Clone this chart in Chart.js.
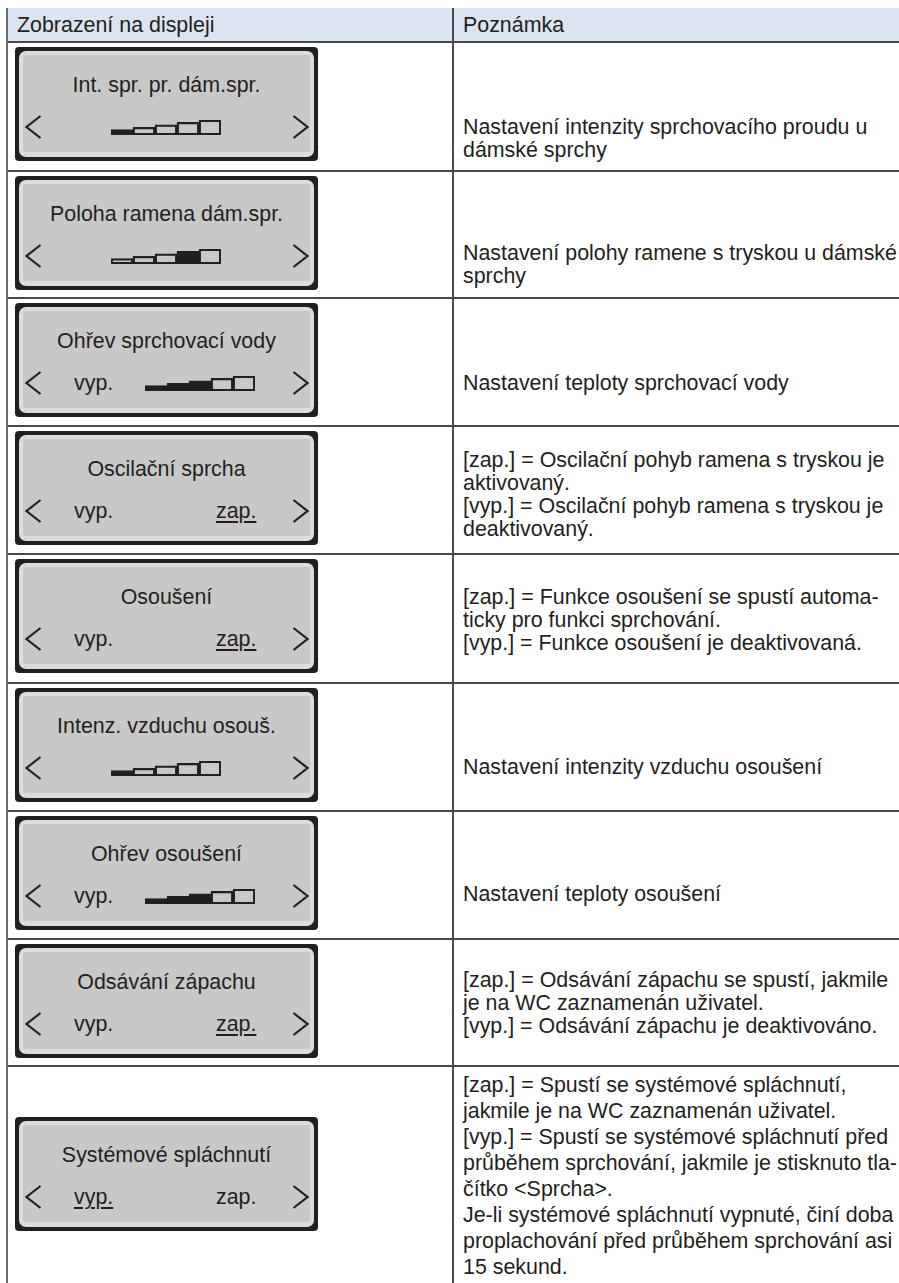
<!DOCTYPE html>
<html lang="cs">
<head>
<meta charset="utf-8">
<title>Zobrazení na displeji</title>
<script src="https://cdn.jsdelivr.net/npm/chart.js@4.4.1/dist/chart.umd.min.js"></script>
<style>
  html, body { margin: 0; padding: 0; background: #fff; }
  body { width: 899px; height: 1283px; overflow: hidden; position: relative;
         font-family: "Liberation Sans", Arial, Helvetica, sans-serif; color: #231f20; }
  .abs { position: absolute; }
  .header { left: 7px; top: 8px; width: 892px; height: 34px; background: #dbe4f1; }
  .hline { left: 7px; width: 892px; height: 2px; background: #4a4a4a; }
  .vline { top: 8px; width: 2px; height: 1290px; background: #4a4a4a; }
  .htext { font-size: 21.4px; line-height: 34px; top: 8px; white-space: nowrap; }
  .note { left: 463px; font-size: 21.4px; line-height: 23px; white-space: nowrap; }
  .box { left: 15px; width: 303px; height: 114px; background: #231f20; border-radius: 4px; }
  .rim { left: 4px; top: 4px; right: 4px; bottom: 4px; background: #dcdcdc; border-radius: 7px; }
  .screen { left: 8px; top: 8px; right: 8px; bottom: 9px; background: #c8c8c8; border-radius: 2px; }
  .title { left: 0; width: 303px; top: 26px; height: 24px; line-height: 24px; text-align: center;
           font-size: 21.4px; white-space: nowrap; }
  .opt { top: 68px; height: 24px; line-height: 24px; font-size: 21.4px; white-space: nowrap; }
  .opt.on { text-decoration: underline; text-decoration-thickness: 1.5px; text-underline-offset: 3px; }
  .chev { top: 68px; }
  .steps { top: 72px; }
</style>
</head>
<body>
<script>
// indicator steps (5 bars of rising height)
const STEP_LEVELS = [1, 2, 3, 4, 5];
const STEP_BASE = -1.2;

const rowTitles = [
  'Int. spr. pr. dám.spr.',
  'Poloha ramena dám.spr.',
  'Ohřev sprchovací vody',
  'Oscilační sprcha',
  'Osoušení',
  'Intenz. vzduchu osouš.',
  'Ohřev osoušení',
  'Odsávání zápachu',
  'Systémové spláchnutí'
];
// 'steps' = bar indicator, 'offsteps' = vyp. + bar indicator, 'toggle' = vyp./zap.
const rowKinds = ['steps', 'steps', 'offsteps', 'toggle', 'toggle', 'steps', 'offsteps', 'toggle', 'toggle'];
// selected step (null for toggle rows)
const rowLevel = [1, 4, 3, null, null, 1, 3, null, null];
// 'upto' fills all steps up to the level, 'single' only the level itself
const rowFill = ['upto', 'single', 'upto', null, null, 'upto', 'upto', null, null];
// which toggle option is underlined
const rowToggle = [null, null, null, 'zap.', 'zap.', null, null, 'zap.', 'vyp.'];

const rowNotes = [
  ['Nastavení intenzity sprchovacího proudu u', 'dámské sprchy'],
  ['Nastavení polohy ramene s tryskou u dámské', 'sprchy'],
  ['Nastavení teploty sprchovací vody'],
  ['[zap.] = Oscilační pohyb ramena s tryskou je', 'aktivovaný.', '[vyp.] = Oscilační pohyb ramena s tryskou je', 'deaktivovaný.'],
  ['[zap.] = Funkce osoušení se spustí automa-', 'ticky pro funkci sprchování.', '[vyp.] = Funkce osoušení je deaktivovaná.'],
  ['Nastavení intenzity vzduchu osoušení'],
  ['Nastavení teploty osoušení'],
  ['[zap.] = Odsávání zápachu se spustí, jakmile', 'je na WC zaznamenán uživatel.', '[vyp.] = Odsávání zápachu je deaktivováno.'],
  ['[zap.] = Spustí se systémové spláchnutí,', 'jakmile je na WC zaznamenán uživatel.', '[vyp.] = Spustí se systémové spláchnutí před', 'průběhem sprchování, jakmile je stisknuto tla-', 'čítko <Sprcha>.', 'Je-li systémové spláchnutí vypnuté, činí doba', 'proplachování před průběhem sprchování asi', '15 sekund.']
];

const headers = ['Zobrazení na displeji', 'Poznámka'];

// layout: row edges in page pixels, box offset, first note line offset and line height per row
const rowTops = [42, 171, 298, 426, 554, 683, 811, 939, 1066, 1283];
const boxOffset = [5, 5, 5, 5, 5, 5, 5, 5, 51];
const noteOffset = [74, 71, 74, 23, 32, 73, 72, 30, 6];
const noteLine = [23, 23, 23, 23, 23, 23, 23, 23, 26];

function el(cls, parent, css) {
  const d = document.createElement('div');
  d.className = cls;
  if (css) Object.assign(d.style, css);
  (parent || document.body).appendChild(d);
  return d;
}

function chevron(parent, left, flip) {
  const ns = 'http://www.w3.org/2000/svg';
  const svg = document.createElementNS(ns, 'svg');
  svg.setAttribute('width', '17');
  svg.setAttribute('height', '24');
  svg.setAttribute('class', 'abs chev');
  svg.style.left = left + 'px';
  const p = document.createElementNS(ns, 'polyline');
  p.setAttribute('points', flip ? '1.5,1 15.5,12 1.5,23' : '15.5,1 1.5,12 15.5,23');
  p.setAttribute('fill', 'none');
  p.setAttribute('stroke', '#231f20');
  p.setAttribute('stroke-width', '2.2');
  svg.appendChild(p);
  parent.appendChild(svg);
}

function stepChart(parent, left, level, mode) {
  const c = document.createElement('canvas');
  c.width = 112;
  c.height = 17;
  c.className = 'abs steps';
  c.style.left = left + 'px';
  parent.appendChild(c);
  const colors = STEP_LEVELS.map(s =>
    (mode === 'single' ? s === level : s <= level) ? '#231f20' : 'rgba(0,0,0,0)');
  new Chart(c, {
    type: 'bar',
    data: {
      labels: STEP_LEVELS.map(String),
      datasets: [{
        data: STEP_LEVELS,
        base: STEP_BASE,
        backgroundColor: colors,
        borderColor: '#231f20',
        borderWidth: 1.6,
        borderSkipped: false,
        barPercentage: 1,
        categoryPercentage: 1
      }]
    },
    options: {
      responsive: false,
      animation: false,
      events: [],
      layout: { padding: 1 },
      plugins: { legend: { display: false }, tooltip: { enabled: false } },
      scales: {
        x: { display: false },
        y: { display: false, min: STEP_BASE, max: STEP_LEVELS[STEP_LEVELS.length - 1] }
      }
    }
  });
}

// header
el('abs header');
el('abs htext', null, { left: '17px' }).textContent = headers[0];
el('abs htext', null, { left: '463px' }).textContent = headers[1];

rowTitles.forEach((title, i) => {
  const top = rowTops[i];

  // display mockup
  const box = el('abs box', null, { top: (top + boxOffset[i]) + 'px' });
  el('abs rim', box);
  el('abs screen', box);
  el('abs title', box).textContent = title;
  chevron(box, 10, false);
  chevron(box, 277, true);

  const kind = rowKinds[i];
  if (kind === 'steps') {
    stepChart(box, 95, rowLevel[i], rowFill[i]);
  } else if (kind === 'offsteps') {
    el('abs opt', box, { left: '59px' }).textContent = 'vyp.';
    stepChart(box, 129, rowLevel[i], rowFill[i]);
  } else {
    const a = el('abs opt', box, { left: '59px' });
    a.textContent = 'vyp.';
    const b = el('abs opt', box, { left: '201px' });
    b.textContent = 'zap.';
    (rowToggle[i] === 'vyp.' ? a : b).classList.add('on');
  }

  // note text
  const n = el('abs note', null, { top: (top + noteOffset[i]) + 'px', lineHeight: noteLine[i] + 'px' });
  n.innerHTML = rowNotes[i].map(t => t.replace(/&/g, '&amp;').replace(/</g, '&lt;').replace(/>/g, '&gt;')).join('<br>');
});

// grid lines
rowTops.slice(0, -1).forEach(y => el('abs hline', null, { top: (y - 1) + 'px' }));
el('abs vline', null, { left: '6px', background: '#6a6a6a' });
el('abs vline', null, { left: '452px' });
</script>
</body>
</html>
